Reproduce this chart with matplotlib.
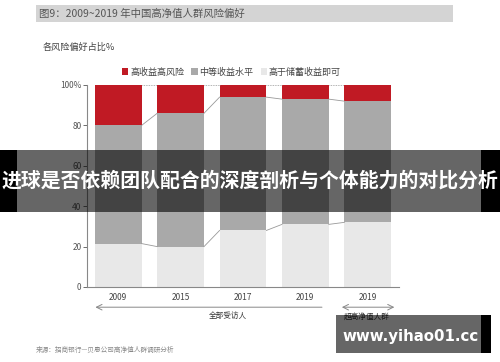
import matplotlib.pyplot as plt
from matplotlib.patches import Rectangle
from matplotlib.transforms import blended_transform_factory

plt.rcParams['font.family'] = ['Noto Sans CJK SC', 'DejaVu Sans']

# data
years = ['2009', '2015', '2017', '2019', '2019']
low_risk = [21.5, 20, 28, 31, 32]      # 高于储蓄收益即可
mid_risk = [58.5, 66, 66, 62, 60]      # 中等收益水平
high_risk = [20, 14, 6, 7, 8]          # 高收益高风险
series_names = ['高收益高风险', '中等收益水平', '高于储蓄收益即可']
colors = ['#c01a24', '#a9a9a9', '#e8e8e8']
yticks = [0, 20, 40, 60, 80, 100]
ytick_labels = ['0', '20', '40', '60', '80', '100%']

W, H = 500, 362
fig = plt.figure(figsize=(W / 100, H / 100), dpi=100)


def fx(x):
    return x / W


def fy(y):
    return 1 - y / H


ax = fig.add_axes([fx(87), fy(287), 312 / W, 202 / H])
x = list(range(len(years)))
width = 0.75
bottom2 = low_risk
bottom3 = [a + b for a, b in zip(low_risk, mid_risk)]
b1 = ax.bar(x, low_risk, width, color=colors[2], zorder=2)
b2 = ax.bar(x, mid_risk, width, bottom=bottom2, color=colors[1], zorder=2)
b3 = ax.bar(x, high_risk, width, bottom=bottom3, color=colors[0], zorder=2)

# connector lines between neighbouring bars
for i in range(len(x) - 1):
    xs = [x[i] + width / 2, x[i + 1] - width / 2]
    ax.plot(xs, [bottom2[i], bottom2[i + 1]], color='#999999', lw=0.6)
    ax.plot(xs, [bottom3[i], bottom3[i + 1]], color='#999999', lw=0.6)
    ax.plot(xs, [100, 100], color='#999999', lw=0.6, ls=(0, (1, 1)))

ax.set_xlim(-0.5, 4.5)
ax.set_ylim(0, 100)
ax.set_yticks(yticks)
ax.set_yticklabels(ytick_labels)
ax.set_xticks(x)
ax.set_xticklabels(years)
ax.tick_params(axis='y', labelsize=6, colors='#555555', length=3, width=0.6, pad=1)
ax.tick_params(axis='x', labelsize=6, colors='#444444', length=0, pad=4)
for s in ['top', 'right']:
    ax.spines[s].set_visible(False)
for s in ['left', 'bottom']:
    ax.spines[s].set_color('#888888')
    ax.spines[s].set_linewidth(0.8)

# group arrows below the axis
tr = blended_transform_factory(ax.transData, ax.transAxes)
ax.annotate('', xy=(-0.41, -0.1), xytext=(3.31, -0.1), xycoords=tr, textcoords=tr,
            arrowprops=dict(arrowstyle='->', color='#888888', lw=0.7), annotation_clip=False)
ax.annotate('', xy=(3.54, -0.1), xytext=(4.47, -0.1), xycoords=tr, textcoords=tr,
            arrowprops=dict(arrowstyle='<->', color='#888888', lw=0.7), annotation_clip=False)
fig.text(fx(228), fy(316), '全部受访人', fontsize=5.5, color='#333333', ha='center', va='center')
fig.text(fx(367), fy(317), '超高净值人群', fontsize=5.5, color='#333333', ha='center', va='center')

# legend
fig.legend([b3, b2, b1], series_names, loc='center left', bbox_to_anchor=(fx(114), fy(72)),
           ncol=3, frameon=False, fontsize=6.5, handlelength=0.7, handleheight=0.7,
           handletextpad=0.2, columnspacing=0.8, labelcolor='#444444')

# header and labels
fig.add_artist(Rectangle((fx(36), fy(22)), (453 - 36) / W, 17 / H, transform=fig.transFigure,
                         facecolor='#d4d4d4', edgecolor='none'))
fig.text(fx(39), fy(14), '图9：2009~2019 年中国高净值人群风险偏好', fontsize=7.5, color='#555555',
         va='center', ha='left')
fig.text(fx(43), fy(47), '各风险偏好占比%', fontsize=6.6, color='#444444', va='center', ha='left')
fig.text(fx(36), fy(350), '来源：招商银行—贝恩公司高净值人群调研分析', fontsize=4.8, color='#888888',
         va='center', ha='left')

# overlay banner
fig.add_artist(Rectangle((fx(17), fy(212)), (481 - 17) / W, 62 / H, transform=fig.transFigure,
                         facecolor='black', alpha=0.6, edgecolor='none', zorder=10))
fig.add_artist(Rectangle((0, fy(212)), fx(17), 62 / H, transform=fig.transFigure,
                         facecolor='black', edgecolor='none', zorder=10))
fig.add_artist(Rectangle((fx(481), fy(212)), fx(19), 62 / H, transform=fig.transFigure,
                         facecolor='black', edgecolor='none', zorder=10))
fig.text(0.5, fy(180), '进球是否依赖团队配合的深度剖析与个体能力的对比分析', fontsize=14.3,
         fontweight='bold', color='white', ha='center', va='center', zorder=11)

# watermark
fig.add_artist(Rectangle((fx(336), fy(353)), (481 - 336) / W, 38 / H, transform=fig.transFigure,
                         facecolor='black', alpha=0.6, edgecolor='none', zorder=10))
fig.add_artist(Rectangle((fx(481), fy(353)), 10 / W, 38 / H, transform=fig.transFigure,
                         facecolor='black', edgecolor='none', zorder=10))
fig.text(fx(411), fy(336), 'www.yihao01.cc', fontsize=10.8, fontweight='bold', color='white',
         family=['DejaVu Sans'], ha='center', va='center', zorder=11)

fig.savefig('out.png', dpi=100)
